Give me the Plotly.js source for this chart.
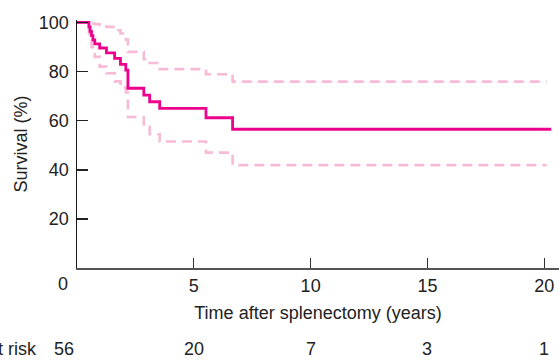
<!DOCTYPE html>
<html>
<head>
<meta charset="utf-8">
<script src="https://cdn.plot.ly/plotly-3.0.1.min.js"></script>
<style>html,body{margin:0;padding:0;background:#fff;}#chart{width:559px;height:361px;}</style>
</head>
<body>
<div id="chart"></div>
<script>
// Kaplan-Meier survival estimate (years, %)
var kmTime = [0, 0.51, 0.56, 0.62, 0.68, 0.76, 0.97, 1.26, 1.61, 1.86, 2.09, 2.18, 2.86, 3.11, 3.54, 5.52, 6.66, 20.3];
var kmSurv = [100, 98.2, 96.4, 94.6, 92.9, 91.3, 89.6, 87.6, 85.4, 82.9, 80.6, 73.2, 70.4, 67.7, 65.0, 61.2, 56.5, 56.5];
// 95% confidence limits
var ciTime = [0, 0.51, 0.56, 0.62, 0.68, 0.76, 0.97, 1.26, 1.61, 1.86, 2.09, 2.18, 2.86, 3.11, 3.54, 5.52, 6.66, 20.1];
var ciUpper = [100, 100, 100, 99.8, 99.6, 99.3, 99.0, 98.2, 96.8, 95.5, 93.0, 88.0, 85.0, 83.5, 81.0, 78.9, 75.9, 75.9];
var ciLower = [100, 95.5, 92.5, 90.0, 88.0, 86.0, 82.0, 79.3, 76.0, 73.5, 71.5, 61.5, 57.5, 54.5, 51.5, 47.0, 41.9, 41.9];
// Numbers at risk
var riskTimes = [0, 5, 10, 15, 20];
var riskCounts = [56, 20, 7, 3, 1];
// Axis ticks
var xTicks = [5, 10, 15, 20];
var yTicks = [0, 20, 40, 60, 80, 100];
var yTickText = ['', '20', '40', '60', '80', '100'];

var FONT = '"Liberation Sans", Arial, Helvetica, sans-serif';
var TXT = '#222222';
var MAGENTA = '#EC008C';
var PINK = '#F7BBD6';
var FS = 18;

var traces = [
  {x: ciTime, y: ciUpper, mode: 'lines', line: {shape: 'hv', color: PINK, width: 2.6, dash: '10px,6px'}, hoverinfo: 'skip', showlegend: false},
  {x: ciTime, y: ciLower, mode: 'lines', line: {shape: 'hv', color: PINK, width: 2.6, dash: '10px,6px'}, hoverinfo: 'skip', showlegend: false},
  {x: kmTime, y: kmSurv, mode: 'lines', line: {shape: 'hv', color: MAGENTA, width: 2.8}, showlegend: false}
];

var annotations = [
  {xref: 'x', yref: 'paper', x: 0, y: 0, xshift: -14, yshift: -16, text: '0', showarrow: false,
   xanchor: 'center', yanchor: 'middle', font: {family: FONT, size: FS, color: TXT}},
  {xref: 'paper', yref: 'paper', x: (39 - 77) / 482, y: 0, yshift: -81, text: 'At risk', showarrow: false,
   xanchor: 'right', yanchor: 'middle', font: {family: FONT, size: FS, color: TXT}}
];
for (var i = 0; i < riskTimes.length; i++) {
  annotations.push({xref: 'x', yref: 'paper', x: riskTimes[i], y: 0, xshift: (i === 0 ? -13 : 0), yshift: -81,
    text: String(riskCounts[i]), showarrow: false, xanchor: 'center', yanchor: 'middle',
    font: {family: FONT, size: FS, color: TXT}});
}

var layout = {
  width: 559, height: 361,
  margin: {l: 77, r: 0, t: 20, b: 93, pad: 0},
  paper_bgcolor: '#ffffff', plot_bgcolor: '#ffffff',
  font: {family: FONT, size: FS, color: TXT},
  showlegend: false,
  xaxis: {
    range: [0, 20.63], tickvals: xTicks, ticktext: xTicks.map(String),
    ticks: 'inside', ticklen: 10, tickwidth: 1.2, tickcolor: '#333333',
    showline: true, linecolor: '#555555', linewidth: 2,
    showgrid: false, zeroline: false, fixedrange: true,
    tickfont: {family: FONT, size: FS, color: TXT},
    title: {text: 'Time after splenectomy (years)', font: {family: FONT, size: FS, color: TXT}, standoff: 12}
  },
  yaxis: {
    range: [0, 101], tickvals: yTicks, ticktext: yTickText,
    ticks: 'inside', ticklen: 11, tickwidth: 1.5, tickcolor: '#222222',
    showline: true, linecolor: '#1a1a1a', linewidth: 1.5,
    showgrid: false, zeroline: false, fixedrange: true,
    ticklabelstandoff: 3,
    tickfont: {family: FONT, size: FS, color: TXT},
    title: {text: 'Survival (%)', font: {family: FONT, size: FS, color: TXT}, standoff: 6}
  },
  annotations: annotations
};

Plotly.newPlot('chart', traces, layout, {displayModeBar: false, staticPlot: true});
</script>
</body>
</html>
